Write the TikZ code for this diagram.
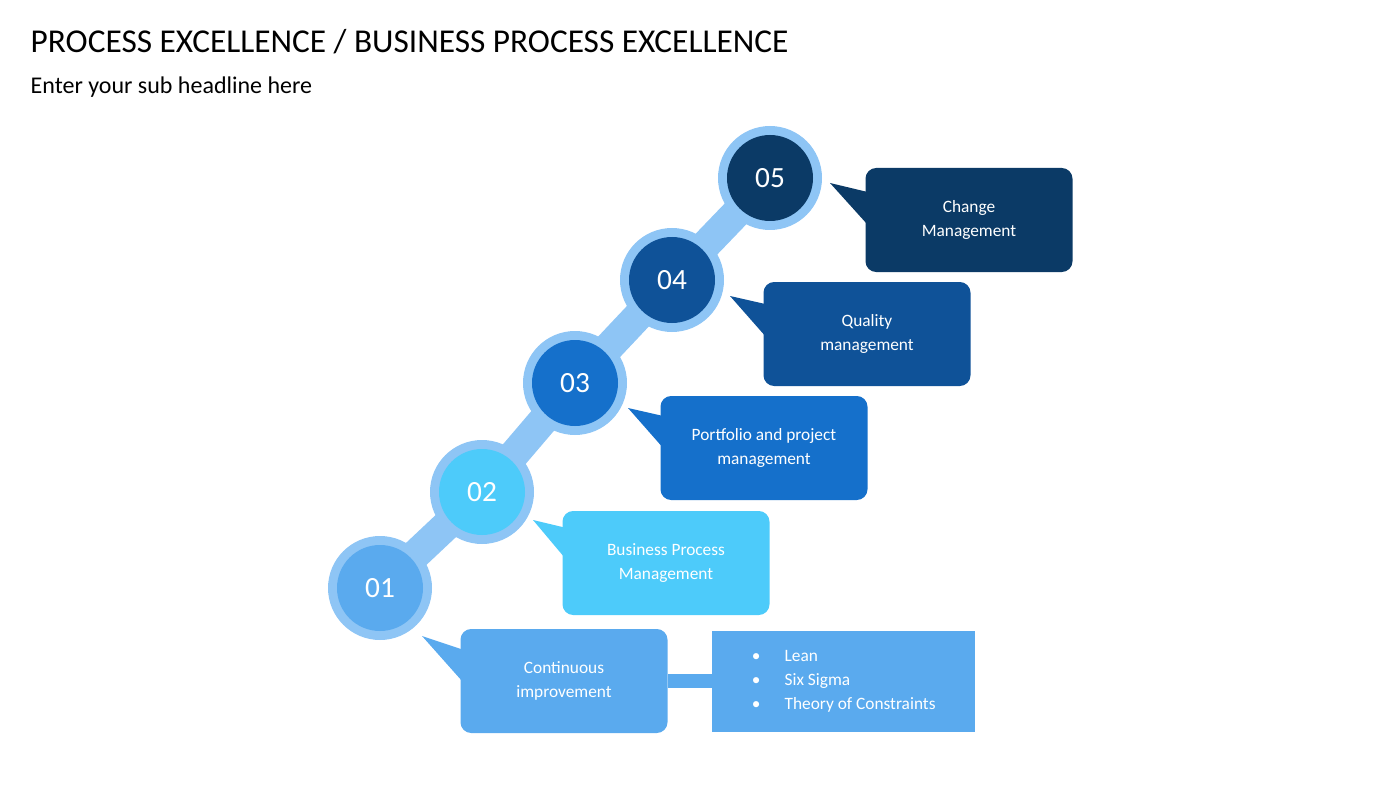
\documentclass[tikz,border=0pt]{standalone}
\usepackage{fontspec}
\setmainfont{Carlito}
\definecolor{ringblue}{HTML}{8EC5F5}
\definecolor{stepA}{HTML}{5AAAEE}
\definecolor{stepB}{HTML}{4DCBFA}
\definecolor{stepC}{HTML}{1570CB}
\definecolor{stepD}{HTML}{0F5298}
\definecolor{stepE}{HTML}{0B3A66}
\tikzset{
  ring/.style={circle,fill=ringblue,minimum size=104*0.75pt,inner sep=0pt},
  disc/.style={circle,minimum size=86*0.75pt,inner sep=0pt,text=white,font=\fontsize{22}{24}\selectfont},
  callout/.style={rounded corners=8pt,minimum width=207*0.75pt,minimum height=104*0.75pt,
    text=white,align=center,font=\fontsize{13}{18}\selectfont}
}
\begin{document}
\begin{tikzpicture}[x=0.75pt,y=-0.75pt]
\useasboundingbox (0,0) rectangle (1400,788);
% headline
\node[anchor=west,font=\fontsize{25}{28}\selectfont] (title) at (26,42) {PROCESS EXCELLENCE / BUSINESS PROCESS EXCELLENCE};
\node[anchor=west,font=\fontsize{18}{20}\selectfont] (sub) at (26,87) {Enter your sub headline here};
% band
\draw[ringblue,line width=30*0.75pt] (380,588) -- (482,492) -- (575,383) -- (672,280) -- (770,178);
% steps
\foreach \n/\x/\y/\c in {01/380/588/stepA,02/482/492/stepB,03/575/383/stepC,04/672/280/stepD,05/770/178/stepE}{
  \node[ring] (r\n) at (\x,\y) {};
  \node[disc,fill=\c] (s\n) at (\x,\y) {\n};
}
% callouts
\fill[stepA] (422,636) -- (470,652) -- (470,690) -- cycle;
\node[callout,fill=stepA] (b01) at (564,681) {Continuous\\improvement};
\fill[stepB] (533,520) -- (575,530) -- (575,570) -- cycle;
\node[callout,fill=stepB] (b02) at (666,563) {Business Process\\Management};
\fill[stepC] (628,408) -- (672,418) -- (672,458) -- cycle;
\node[callout,fill=stepC] (b03) at (764,448) {Portfolio and project\\management};
\fill[stepD] (730,296) -- (774,306) -- (774,346) -- cycle;
\node[callout,fill=stepD] (b04) at (867,334) {Quality\\management};
\fill[stepE] (830,183) -- (876,194) -- (876,234) -- cycle;
\node[callout,fill=stepE] (b05) at (969,220) {Change\\Management};
% list
\node[fill=stepA,minimum width=263*0.75pt,minimum height=101*0.75pt,text=white,align=left,
  font=\fontsize{13}{18}\selectfont,anchor=west,inner xsep=8pt] (list) at (712,681)
  {\textbullet\hspace{18pt}Lean\\\textbullet\hspace{18pt}Six Sigma\\\textbullet\hspace{18pt}Theory of Constraints};
\draw[stepA,line width=14*0.75pt] (b01.east) -- (list.west);
\end{tikzpicture}
\end{document}
